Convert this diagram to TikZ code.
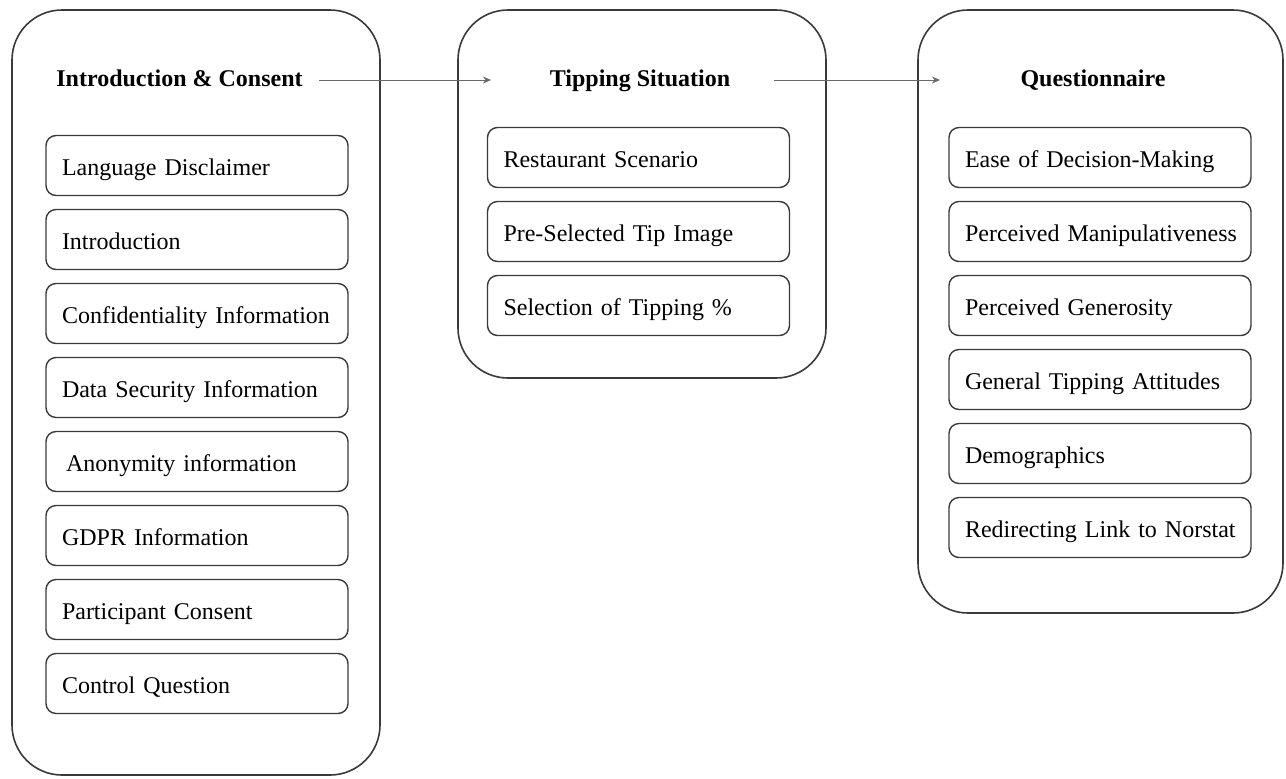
\documentclass[tikz,border=0pt]{standalone}
\usepackage{fontspec}
\setmainfont{Liberation Serif}
\usepackage{xcolor}
\usetikzlibrary{arrows.meta, positioning}

\definecolor{edgegray}{HTML}{3A3A3A}
\definecolor{arrowgray}{HTML}{6A6A6A}

\begin{document}
\begin{tikzpicture}[
    x=0.5pt, y=-0.5pt,
    node distance=6.3pt,
    stage/.style={draw=edgegray, line width=0.8pt, rounded corners=25pt,
                  minimum width=184pt, inner sep=0pt},
    item/.style={draw=edgegray, line width=0.7pt, rounded corners=5pt,
                 text width=135pt, inner xsep=8pt, inner ysep=0pt,
                 text height=9.5pt, text depth=0pt,
                 minimum height=30pt, align=left,
                 font=\fontsize{12}{14}\selectfont,
                 execute at begin node=\hbox\bgroup,
                 execute at end node=\egroup},
    head/.style={inner sep=0pt, anchor=base,
                 font=\fontsize{12}{14}\selectfont\bfseries},
    arr/.style={-{Stealth[length=4pt, width=3.5pt]}, draw=arrowgray,
                fill=arrowgray, line width=0.5pt}
]
\useasboundingbox (0,0) rectangle (1286,778);

% outer stages
\node[stage, minimum height=382.5pt]                  (intro)  at (196,392.5)  {};
\node[stage, minimum height=184pt]                    (tip)    at (642,194)    {};
\node[stage, minimum height=301.5pt, minimum width=182.5pt] (quest) at (1100.5,311.5) {};

% stage titles
\node[head] (hintro) at (179.5,86) {Introduction \& Consent};
\node[head] (htip)   at (640,86)   {Tipping Situation};
\node[head] (hquest) at (1093,86)  {Questionnaire};

% steps of the first stage
\node[item] (lang)  at (197,165.5) {Language Disclaimer};
\node[item, below=of lang]   (introd) {Introduction};
\node[item, below=of introd] (conf)   {Confidentiality Information};
\node[item, below=of conf]   (data)   {Data Security Information};
\node[item, below=of data]   (anon)   {\hspace*{2pt}Anonymity information};
\node[item, below=of anon]   (gdpr)   {GDPR Information};
\node[item, below=of gdpr]   (cons)   {Participant Consent};
\node[item, below=of cons]   (ctrl)   {Control Question};

% steps of the second stage
\node[item] (rest)  at (638.5,157.5) {Restaurant Scenario};
\node[item, below=of rest]   (presel) {Pre-Selected Tip Image};
\node[item, below=of presel] (sel)    {Selection of Tipping \%};

% steps of the third stage
\node[item] (ease)  at (1100,157.5) {Ease of Decision-Making};
\node[item, below=of ease]  (manip) {Perceived Manipulativeness};
\node[item, below=of manip] (gen)   {Perceived Generosity};
\node[item, below=of gen]   (att)   {General Tipping Attitudes};
\node[item, below=of att]   (demo)  {Demographics};
\node[item, below=of demo]  (norst) {Redirecting Link to Norstat};

% arrow ends
\coordinate (end1) at (491,80);
\coordinate (end2) at (940,80);

\draw[arr, shorten <=8pt]    (hintro.east |- end1) -- (end1);
\draw[arr, shorten <=21.5pt] (htip.east |- end2)   -- (end2);
\end{tikzpicture}
\end{document}
